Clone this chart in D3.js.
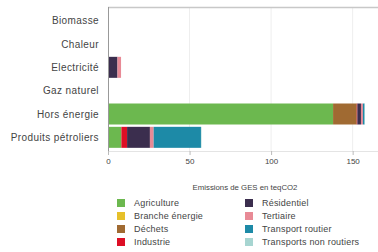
<!DOCTYPE html>
<html>
<head>
<meta charset="utf-8">
<script src="https://cdn.jsdelivr.net/npm/d3@7"></script>
<style>
  body { margin: 0; background: #fff; }
  text { font-family: "Liberation Sans", Arial, sans-serif; fill: #444; }
</style>
</head>
<body>
<div id="chart-area"></div>
<script>
// categories (top to bottom)
var categories = ['Biomasse', 'Chaleur', 'Electricité', 'Gaz naturel', 'Hors énergie', 'Produits pétroliers'];
// sectors (stack order)
var sectors = ['Agriculture', 'Branche énergie', 'Déchets', 'Industrie', 'Résidentiel', 'Tertiaire', 'Transport routier', 'Transports non routiers'];
var colors = ['#6cb84f', '#e6c02a', '#a06a32', '#dd0f25', '#3b2e4e', '#e88a96', '#1d8aa7', '#a7d5d1'];
// values per sector, one per category (teqCO2)
var agriculture   = [0, 0, 0, 0, 138, 8.2];
var brancheEnergie = [0, 0, 0, 0, 0, 0];
var dechets       = [0, 0, 0, 0, 14.5, 0];
var industrie     = [0, 0, 0, 0, 0.4, 3.5];
var residentiel   = [0.6, 0.2, 5.8, 0.6, 2.2, 14];
var tertiaire     = [0, 0.4, 2.2, 0, 1.2, 2.3];
var transportRoutier = [0, 0, 0, 0, 1.0, 29];
var transportsNonRoutiers = [0, 0, 0, 0, 0.2, 0.3];
var xTicks = [0, 50, 100, 150];

var series = [agriculture, brancheEnergie, dechets, industrie, residentiel, tertiaire, transportRoutier, transportsNonRoutiers];

var data = categories.map(function(c, i){
  var row = { cat: c };
  sectors.forEach(function(s, j){ row[s] = series[j][i]; });
  return row;
});

var W = 378, H = 252;
var svg = d3.select('#chart-area').append('svg')
  .attr('width', W).attr('height', H);

var x = d3.scaleLinear().domain([0, 168]).range([108, 382]);
var y = d3.scaleBand().domain(categories).range([9, 149]).paddingInner(0.1).paddingOuter(0.05);

// gridlines
svg.append('g').selectAll('line').data(xTicks.slice(1)).enter().append('line')
  .attr('x1', function(d){ return x(d); }).attr('x2', function(d){ return x(d); })
  .attr('y1', 7).attr('y2', 152)
  .attr('stroke', '#eee').attr('stroke-width', 1);

// frame top / bottom
svg.append('line').attr('x1', 108).attr('x2', W).attr('y1', 7.5).attr('y2', 7.5)
  .attr('stroke', '#c8c8c8').attr('stroke-width', 1.5);
svg.append('line').attr('x1', 108).attr('x2', W).attr('y1', 151.5).attr('y2', 151.5)
  .attr('stroke', '#e4e4e4').attr('stroke-width', 1);

var stack = d3.stack().keys(sectors)(data);

svg.append('g').selectAll('g').data(stack).enter().append('g')
  .attr('fill', function(d, i){ return colors[i]; })
  .selectAll('rect').data(function(d){ return d; }).enter().append('rect')
    .attr('x', function(d){ return x(d[0]); })
    .attr('y', function(d){ return y(d.data.cat); })
    .attr('width', function(d){ return Math.max(0, x(d[1]) - x(d[0])); })
    .attr('height', y.bandwidth());

// left axis
svg.append('line').attr('x1', 108.5).attr('x2', 108.5).attr('y1', 7).attr('y2', 152)
  .attr('stroke', '#999').attr('stroke-width', 1);

svg.append('g').selectAll('text').data(categories).enter().append('text')
  .attr('x', 99)
  .attr('y', function(d){ return y(d) + y.bandwidth() / 2; })
  .attr('dy', '0.35em')
  .attr('text-anchor', 'end')
  .attr('font-size', '10px')
  .attr('letter-spacing', '0.4px')
  .text(function(d){ return d; });

// bottom axis
var xAxis = d3.axisBottom(x).tickValues(xTicks).tickSize(4).tickPadding(3);
var gx = svg.append('g').attr('transform', 'translate(0,151)').call(xAxis);
gx.select('.domain').remove();
gx.selectAll('line').attr('stroke', '#bbb');
gx.selectAll('text').attr('font-size', '8px').attr('fill', '#555');

svg.append('text')
  .attr('x', 245).attr('y', 190)
  .attr('text-anchor', 'middle')
  .attr('font-size', '7.8px')
  .text('Emissions de GES en teqCO2');

// legend
var legend = svg.append('g');
sectors.forEach(function(s, i){
  var col = Math.floor(i / 4), row = i % 4;
  var g = legend.append('g')
    .attr('transform', 'translate(' + (117 + col * 128) + ',' + (203 + row * 13) + ')');
  g.append('rect').attr('x', 0).attr('y', -4).attr('width', 8).attr('height', 8)
    .attr('fill', colors[i]);
  g.append('text').attr('x', 17).attr('y', 0).attr('dy', '0.35em')
    .attr('font-size', '9px')
    .attr('letter-spacing', '0.2px')
    .text(s);
});
</script>
</body>
</html>
